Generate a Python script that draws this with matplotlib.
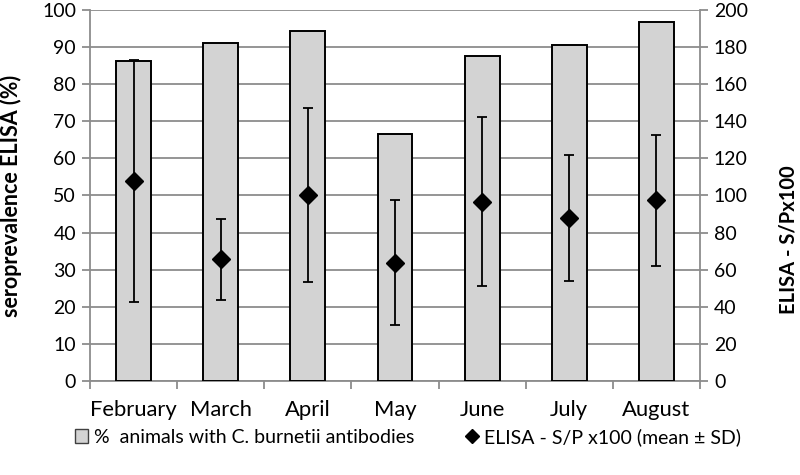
import matplotlib
matplotlib.use("Agg")
import matplotlib.pyplot as plt
from matplotlib.patches import Patch
from matplotlib.lines import Line2D
import numpy as np

plt.rcParams['font.family'] = ['Lato', 'DejaVu Sans']

months = ["February", "March", "April", "May", "June", "July", "August"]
seroprev = [86.2, 91.0, 94.4, 66.7, 87.6, 90.5, 96.8]
elisa_mean = [107.8, 65.5, 100.3, 63.8, 96.6, 87.7, 97.3]
elisa_sd = [65.0, 21.7, 46.8, 33.8, 45.5, 34.0, 35.2]

grid_c = '#8c8c8c'

fig = plt.figure(figsize=(8, 4.75), dpi=100)
ax = fig.add_axes([0.1125, 0.198, 0.7625, 0.781])
x = np.arange(len(months))

ax.bar(x, seroprev, width=0.4, color='#d3d3d3', edgecolor='black', linewidth=1.4, zorder=3)
ax.set_xlim(-0.5, len(months) - 0.5)
ax.set_ylim(0, 100)
ax.set_yticks(range(0, 101, 10))
ax.yaxis.grid(True, color=grid_c, linewidth=1.3, zorder=0)
ax.set_axisbelow(True)
ax.set_xticks(x)
ax.set_xticklabels(months, fontsize=15.8)
ax.set_xticks(np.arange(-0.5, len(months)), minor=True)
ax.tick_params(axis='x', which='major', length=0, pad=14)
ax.tick_params(axis='x', which='minor', length=6, width=1.3, color=grid_c, direction='out')
ax.tick_params(axis='y', length=6, width=1.3, color=grid_c, labelsize=14, pad=4)
for s in ['top', 'right']:
    ax.spines[s].set_visible(False)
for s in ['left', 'bottom']:
    ax.spines[s].set_color(grid_c)
    ax.spines[s].set_linewidth(1.3)
ax.set_ylabel('seroprevalence ELISA (%)', fontsize=15.5, fontweight='bold')
ax.yaxis.set_label_coords(-0.111, 0.499)

ax2 = ax.twinx()
ax2.set_ylim(0, 200)
ax2.set_yticks(range(0, 201, 20))
ax2.errorbar(x, elisa_mean, yerr=elisa_sd, fmt='D', color='black', markersize=9,
             ecolor='black', elinewidth=1.3, capsize=3.5, capthick=1.3, zorder=5)
ax2.tick_params(axis='y', length=6, width=1.3, color=grid_c, labelsize=14, pad=4)
for s in ['top', 'left', 'bottom']:
    ax2.spines[s].set_visible(False)
ax2.spines['right'].set_color(grid_c)
ax2.spines['right'].set_linewidth(1.3)
ax2.set_ylabel('ELISA - S/Px100', fontsize=14.5, fontweight='bold', rotation=90)
ax2.yaxis.set_label_coords(1.1295, 0.38)

handles = [Patch(facecolor='#d3d3d3', edgecolor='#404040', linewidth=1.0,
                 label='%  animals with C. burnetii antibodies'),
           Line2D([], [], marker='D', color='black', linestyle='none', markersize=7,
                  label='ELISA - S/P x100 (mean ± SD)')]
fig.legend(handles=handles, loc='center', bbox_to_anchor=(0.51, 0.08), ncol=2,
           frameon=False, fontsize=14, handlelength=0.7, handleheight=0.7,
           handletextpad=0.3, columnspacing=2.6)

fig.savefig('out.png', dpi=100)
